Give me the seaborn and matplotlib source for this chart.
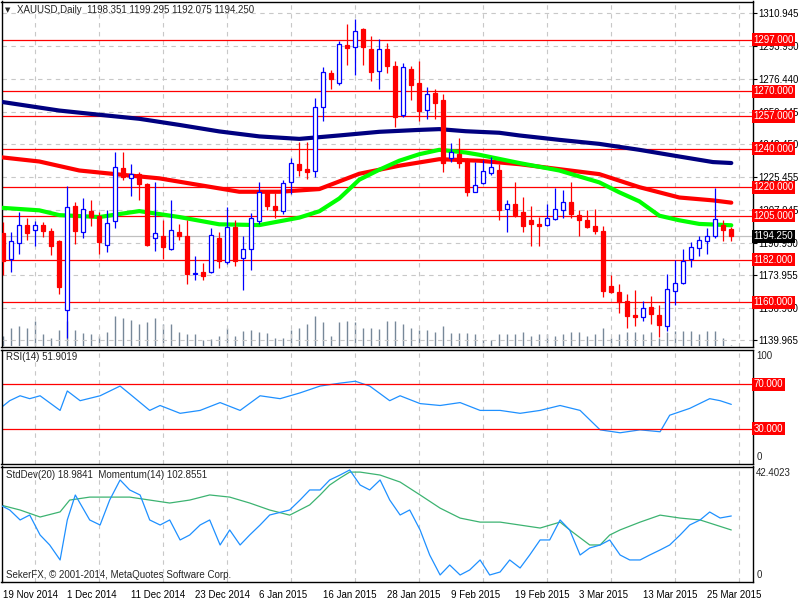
import numpy as np
import pandas as pd
import matplotlib.pyplot as plt
import seaborn as sns

# --- Values (XAUUSD daily, 19 Nov 2014 - 30 Mar 2015) ---
opens = [1196.1, 1182.5, 1190.9, 1200.2, 1197.6, 1200.2, 1197.1, 1191.9, 1155.9, 1210.3,
         1196.6, 1207.5, 1205.1, 1189.8, 1202.3, 1230.1, 1224.6, 1227.0, 1221.8, 1193.6,
         1194.7, 1187.7, 1196.8, 1194.7, 1174.5, 1175.6, 1175.6, 1193.6, 1180.8, 1199.2,
         1182.8, 1187.7, 1202.3, 1218.0, 1210.3, 1207.5, 1222.8, 1232.2, 1229.4, 1228.4,
         1261.8, 1279.5, 1274.3, 1294.1, 1293.0, 1302.4, 1292.0, 1280.5, 1292.0, 1283.3,
         1257.9, 1281.6, 1274.3, 1260.4, 1269.4, 1265.6, 1235.0, 1237.4, 1234.6, 1217.6,
         1222.1, 1227.3, 1229.1, 1208.6, 1211.4, 1207.2, 1202.7, 1200.9, 1200.2, 1203.4,
         1207.9, 1212.4, 1205.4, 1203.0, 1199.9, 1197.1, 1168.6, 1165.5, 1160.6, 1153.3,
         1152.3, 1157.5, 1153.3, 1147.4, 1165.8, 1170.0, 1182.5, 1188.4, 1191.9, 1194.3,
         1200.2, 1198.351]
highs = [1201.6, 1196.8, 1207.2, 1203.7, 1202.3, 1201.6, 1198.8, 1192.2, 1220.7, 1212.4,
         1214.5, 1213.1, 1206.8, 1208.2, 1238.1, 1238.1, 1232.2, 1227.7, 1222.1, 1222.8,
         1202.7, 1213.4, 1200.9, 1203.0, 1184.2, 1180.4, 1198.8, 1196.8, 1209.9, 1203.0,
         1194.3, 1206.5, 1222.8, 1218.7, 1216.9, 1223.5, 1235.4, 1243.7, 1243.7, 1266.6,
         1283.0, 1281.2, 1296.5, 1305.2, 1307.6, 1302.9, 1298.9, 1297.2, 1295.1, 1286.1,
         1284.7, 1283.3, 1285.7, 1272.2, 1271.5, 1268.7, 1243.0, 1245.8, 1235.0, 1232.9,
         1234.3, 1236.0, 1231.9, 1213.1, 1222.5, 1214.8, 1210.0, 1204.4, 1211.4, 1219.7,
         1218.7, 1222.8, 1208.2, 1208.2, 1208.6, 1199.5, 1174.2, 1169.6, 1164.4, 1166.2,
         1160.6, 1163.4, 1158.5, 1174.9, 1181.8, 1187.7, 1191.2, 1194.3, 1198.8, 1219.4,
         1202.7, 1199.295]
lows = [1174.0, 1175.6, 1185.3, 1192.6, 1189.1, 1194.0, 1184.6, 1164.1, 1141.1, 1190.5,
        1193.3, 1199.5, 1185.3, 1186.0, 1198.5, 1223.9, 1215.2, 1213.4, 1189.5, 1186.7,
        1182.5, 1187.2, 1192.6, 1169.3, 1171.4, 1171.7, 1175.0, 1177.6, 1179.7, 1178.7,
        1166.2, 1176.9, 1200.6, 1207.9, 1203.7, 1205.8, 1216.6, 1225.9, 1224.2, 1225.3,
        1254.5, 1271.5, 1273.6, 1284.0, 1278.8, 1284.0, 1275.3, 1271.5, 1279.5, 1251.3,
        1256.5, 1265.6, 1254.8, 1255.8, 1255.8, 1227.7, 1233.3, 1230.1, 1215.5, 1217.3,
        1221.4, 1226.6, 1202.7, 1196.4, 1204.4, 1196.8, 1189.5, 1189.1, 1199.9, 1202.7,
        1203.7, 1203.7, 1194.3, 1198.8, 1195.7, 1162.7, 1164.8, 1154.3, 1146.4, 1147.4,
        1150.2, 1148.8, 1141.8, 1145.0, 1158.5, 1169.6, 1178.3, 1184.2, 1185.3, 1193.3,
        1191.9, 1192.075]
closes = [1181.3, 1191.9, 1200.2, 1196.1, 1200.2, 1197.1, 1189.1, 1167.7, 1209.6, 1197.3,
          1208.6, 1204.4, 1191.2, 1201.3, 1230.5, 1225.3, 1227.0, 1221.4, 1189.8, 1196.1,
          1188.8, 1197.8, 1194.3, 1174.5, 1175.2, 1173.5, 1195.0, 1181.5, 1199.2, 1181.5,
          1187.7, 1204.1, 1217.6, 1210.3, 1207.9, 1222.1, 1232.6, 1229.1, 1227.7, 1261.8,
          1280.2, 1276.4, 1294.8, 1292.4, 1301.4, 1293.4, 1280.2, 1292.0, 1283.3, 1256.5,
          1282.6, 1273.6, 1259.7, 1268.7, 1263.9, 1232.6, 1238.1, 1232.6, 1217.3, 1221.1,
          1228.4, 1230.5, 1208.2, 1211.4, 1205.4, 1199.9, 1200.6, 1199.5, 1204.1, 1208.6,
          1212.4, 1205.8, 1202.7, 1199.2, 1197.1, 1165.8, 1165.1, 1159.9, 1152.6, 1152.3,
          1156.8, 1153.7, 1148.1, 1166.9, 1170.0, 1181.5, 1188.8, 1192.6, 1194.7, 1203.4,
          1197.4, 1194.250]
volumes = [10.7, 18.7, 20, 18, 25.3, 12.7, 8, 16.7, 25, 16,
           13.3, 12.7, 10, 14, 30, 28, 26, 22, 24.7, 28,
           22, 22, 14.7, 12.7, 12.2, 6.7, 7.3, 10.7, 18, 10.7,
           15.3, 16, 14, 13.3, 8, 8.7, 16, 18.7, 22.7, 30,
           24.7, 10, 24.7, 25.3, 24.7, 18.7, 18.7, 17.3, 25.3, 25.3,
           22, 18, 16.7, 16.7, 14.7, 20.7, 13.3, 13.3, 13.3, 12.7,
           6, 6.7, 12, 12.7, 12.7, 14.7, 10.7, 12, 12.7, 10.7,
           12.7, 14, 14.7, 10, 12, 18, 8.7, 12.7, 14, 14,
           12.7, 14, 8, 14.7, 15.3, 15.3, 15.3, 12.7, 15.3, 15.3,
           8, 1.3]

# moving averages, read at sample bars
ma_slow_bars = [-0.5, 7, 12, 17, 22, 27, 32, 37, 42, 47, 52, 54.5, 57.8, 62, 64.5,
                69.5, 74.5, 79.5, 84.5, 88.7, 91]
ma_slow_vals = [1264.7, 1260.0, 1257.8, 1255.7, 1252.5, 1249.1, 1246.5, 1245.2, 1247.0,
                1248.9, 1249.9, 1250.3, 1249.2, 1248.4, 1247.0, 1244.7, 1242.6, 1239.5,
                1236.0, 1233.1, 1232.6]
ma_mid_bars = [-0.5, 4.5, 9.5, 14.5, 19.5, 24.5, 29.5, 34.5, 39.5, 44.5, 49.5, 54.5,
               59.5, 64.5, 69.5, 74.5, 79.5, 84.5, 88.7, 91]
ma_mid_vals = [1235.7, 1233.4, 1228.7, 1226.6, 1224.6, 1221.1, 1217.6, 1217.6, 1219.0,
               1227.0, 1231.2, 1234.6, 1233.8, 1232.0, 1229.4, 1226.8, 1220.0, 1214.6,
               1213.1, 1211.9]
ma_fast_bars = [-0.5, 4.5, 7, 12, 17, 22, 27, 32, 37, 39.5, 42, 44.5, 47, 49.5, 52, 54.5,
                57.8, 59.5, 64.5, 69.5, 74.5, 77, 79.5, 82, 84.5, 87, 91]
ma_fast_vals = [1209.3, 1207.9, 1205.4, 1204.4, 1207.5, 1204.4, 1200.6, 1200.2, 1204.1,
                1207.4, 1214.1, 1223.9, 1229.1, 1233.8, 1237.2, 1239.5, 1238.1, 1236.9,
                1232.6, 1228.7, 1222.5, 1217.3, 1212.6, 1205.1, 1202.7, 1200.8, 1200.1]

levels = [1297, 1270, 1257, 1240, 1220, 1205, 1182, 1160]
last_price = 1194.250
price_ticks = [1310.945, 1293.950, 1276.440, 1259.445, 1242.450, 1225.455,
               1207.945, 1190.950, 1173.955, 1156.960, 1139.965]

rsi_bars = [-0.4, 0.8, 2.1, 3.3, 4.6, 7.1, 8, 9.6, 12.1, 14.6, 15.8, 18.3, 19.6, 22.1,
            24.6, 27.1, 29.6, 32.1, 34.6, 37.1, 39.6, 42.1, 44, 45.8, 48.3, 49.6, 52.1,
            54.6, 57.1, 59.6, 62.1, 64.6, 67.1, 69.6, 72.1, 74.6, 77.1, 79.6, 82.1, 83.3,
            85.8, 88.3, 89.6, 91]
rsi_vals = [48.3, 55.2, 59.6, 57.0, 59.6, 46.5, 63.9, 55.2, 59.6, 68.3, 61.3, 46.5, 50.9,
            43.9, 46.5, 53.5, 46.5, 59.6, 57.0, 62.2, 68.3, 70.9, 72.6, 68.3, 55.2, 59.6,
            52.6, 50.9, 53.5, 46.5, 46.5, 43.9, 46.5, 50.9, 46.5, 29.1, 26.5, 29.1, 27.4,
            42.2, 48.3, 57.0, 55.2, 51.9]

std_bars = [-0.4, 2.1, 4.6, 7.1, 8.3, 10.8, 13.3, 15.8, 18.3, 20.8, 23.3, 25.8, 28.3,
            30.8, 33.3, 35.8, 38.3, 39.6, 40.8, 42.1, 43.3, 44.6, 47.1, 49.6, 52.1, 54.6,
            57.1, 59.6, 62.1, 64.6, 67.1, 69.6, 70.8, 73.3, 74.6, 75.8, 77.1, 79.6, 82.1,
            84.6, 87.1, 91]
std_vals = [28.3, 26.4, 23.8, 25.7, 30.1, 31.2, 31.2, 31.2, 30.1, 29.0, 30.1, 32.0, 31.2,
            29.0, 26.4, 24.5, 28.3, 32.0, 35.7, 38.3, 40.5, 40.5, 39.4, 36.8, 32.0, 27.1,
            23.4, 21.9, 21.9, 20.8, 19.7, 21.9, 19.0, 13.4, 13.4, 17.1, 19.0, 21.9, 24.5,
            23.4, 22.7, 18.98]

mom_bars = [-0.4, 0.8, 2.1, 3.3, 4.6, 5.8, 7.1, 8.0, 9.0, 10.8, 12.1, 13.3, 14.6, 15.8,
            17.1, 18.3, 19.6, 20.8, 22.1, 23.3, 24.6, 25.8, 27.1, 28.3, 29.6, 30.8, 32.1,
            33.3, 35.8, 37.1, 38.3, 39.6, 40.8, 42.1, 43.3, 44.6, 45.8, 47.1, 48.3, 49.6,
            50.8, 52.1, 53.3, 54.6, 55.8, 57.1, 58.3, 59.6, 60.8, 62.1, 63.3, 64.6, 65.8,
            67.1, 68.3, 69.6, 70.8, 72.1, 73.3, 74.6, 75.8, 77.1, 78.3, 79.6, 80.8, 82.1,
            83.3, 84.6, 85.8, 87.1, 88.3, 89.6, 91]
mom_vals = [104.25, 103.62, 102.35, 102.98, 100.44, 99.17, 97.27, 102.35, 105.52, 102.35,
            101.71, 104.89, 107.43, 106.16, 105.52, 102.35, 101.71, 102.35, 99.81, 100.44,
            101.71, 102.35, 99.17, 101.08, 99.17, 100.44, 101.71, 102.98, 103.62, 104.89,
            106.16, 106.16, 107.43, 108.06, 108.70, 106.79, 106.16, 107.43, 104.89, 102.98,
            103.62, 101.08, 97.90, 95.36, 96.63, 95.36, 96.00, 97.27, 95.36, 95.74, 97.27,
            96.25, 97.90, 99.81, 99.81, 102.35, 101.08, 97.90, 98.79, 99.17, 99.81, 97.90,
            97.27, 97.27, 97.90, 98.54, 99.17, 100.44, 101.71, 102.35, 103.36, 102.60,
            102.855]

tick_labels = ["19 Nov 2014", "1 Dec 2014", "11 Dec 2014", "23 Dec 2014", "6 Jan 2015",
               "16 Jan 2015", "28 Jan 2015", "9 Feb 2015", "19 Feb 2015", "3 Mar 2015",
               "13 Mar 2015", "25 Mar 2015"]

# --- Style ---
sns.set_theme(style="white")
plt.rcParams['font.family'] = ['Liberation Sans', 'DejaVu Sans']
FS = 7
GRID = dict(color="#C8C8C8", lw=0.8, ls=(0, (4, 4)), zorder=0)

W, H = 800, 600
fig = plt.figure(figsize=(8, 6), dpi=100)
fig.patch.set_facecolor("white")


def box(x0, y0, x1, y1):
    return [x0 / W, 1 - y1 / H, (x1 - x0) / W, (y1 - y0) / H]


ax = fig.add_axes(box(1.5, 1.5, 752.5, 346.5))
ax_rsi = fig.add_axes(box(1.5, 349.5, 752.5, 463.5))
ax_ind = fig.add_axes(box(1.5, 466.5, 752.5, 582))

n = len(closes)
xlim = (-0.225, 93.65)
grid_bars = np.arange(4, n + 1, 8)

for a in (ax, ax_rsi, ax_ind):
    a.set_xlim(*xlim)
    a.set_facecolor("white")
    for s in a.spines.values():
        s.set_color("black")
        s.set_linewidth(1.0)
    for b in grid_bars:
        a.axvline(b, **GRID)

# --- Main panel: candles, volumes, moving averages ---
df = pd.DataFrame({"o": opens, "h": highs, "l": lows, "c": closes, "v": volumes})
df["x"] = np.arange(n)
up = df[df.c >= df.o]
dn = df[df.c < df.o]

ax_v = ax.twinx()
ax_v.set_zorder(ax.get_zorder() - 1)
ax.patch.set_visible(False)
ax_v.set_ylim(0, 345)
ax_v.vlines(df.x, 0, df.v, color="#778899", lw=1.0)
ax_v.yaxis.set_visible(False)
for s in ax_v.spines.values():
    s.set_visible(False)

ax.set_ylim(1136.80, 1316.94)
for t in price_ticks:
    ax.axhline(t, **GRID)
ax.axhline(last_price, color="#C0C0C0", lw=0.9, zorder=1)
for lv in levels:
    ax.axhline(lv, color="#FF0000", lw=0.9, zorder=2)

sns.lineplot(x=ma_slow_bars, y=ma_slow_vals, ax=ax, color="#000080", lw=3, zorder=3)
sns.lineplot(x=ma_mid_bars, y=ma_mid_vals, ax=ax, color="#FF0000", lw=3, zorder=3)
sns.lineplot(x=ma_fast_bars, y=ma_fast_vals, ax=ax, color="#00FF00", lw=3, zorder=3)

ax.vlines(up.x, up.l, up.h, color="#0000FF", lw=0.9, zorder=4)
ax.vlines(dn.x, dn.l, dn.h, color="#FF0000", lw=0.9, zorder=4)
ax.bar(up.x, np.maximum(up.c - up.o, 0.4), bottom=up.o, width=0.5,
       color="white", edgecolor="#0000FF", lw=0.9, zorder=5)
ax.bar(dn.x, np.maximum(dn.o - dn.c, 0.4), bottom=dn.c, width=0.5,
       color="#FF0000", edgecolor="#FF0000", lw=0.9, zorder=5)

ax.yaxis.tick_right()
ax.set_yticks(price_ticks)
ax.set_yticklabels([f"{t:.3f}" for t in price_ticks])
ax.tick_params(axis="y", labelsize=FS, length=3, width=0.8, pad=1.5, colors="black")
ax.set_xticks([])
ax.set_xlabel("")
ax.set_ylabel("")

ytr = ax.get_yaxis_transform()
for lv in levels:
    ax.text(1.0015, lv, f"{lv:.3f}", transform=ytr, color="white", fontsize=FS,
            va="center", ha="left", clip_on=False, zorder=10,
            bbox=dict(boxstyle="square,pad=0.15", fc="#FF0000", ec="none"))
ax.text(1.0015, last_price, f"{last_price:.3f}", transform=ytr, color="white",
        fontsize=FS, va="center", ha="left", clip_on=False, zorder=10,
        bbox=dict(boxstyle="square,pad=0.15", fc="black", ec="none"))

# --- RSI panel ---
ax_rsi.set_ylim(-1, 101)
sns.lineplot(x=rsi_bars, y=rsi_vals, ax=ax_rsi, color="#1E90FF", lw=0.9)
for lv in (70, 30):
    ax_rsi.axhline(lv, color="#FF0000", lw=0.9, zorder=2)
ax_rsi.set_xticks([])
ax_rsi.set_yticks([])
ax_rsi.set_xlabel("")
ax_rsi.set_ylabel("")
rtr = ax_rsi.get_yaxis_transform()
ax_rsi.text(1.005, 95, "100", transform=rtr, fontsize=FS, va="center", ha="left")
ax_rsi.text(1.005, 5, "0", transform=rtr, fontsize=FS, va="center", ha="left")
for lv in (70, 30):
    ax_rsi.text(1.0015, lv, f"{lv:.3f}", transform=rtr, color="white", fontsize=FS,
                va="center", ha="left", clip_on=False,
                bbox=dict(boxstyle="square,pad=0.15", fc="#FF0000", ec="none"))

# --- StdDev / Momentum panel ---
ax_ind.set_ylim(-0.37, 42.58)
sns.lineplot(x=std_bars, y=std_vals, ax=ax_ind, color="#3CB371", lw=0.9)
ax_m = ax_ind.twinx()
ax_m.set_ylim(94.47, 109.14)
sns.lineplot(x=mom_bars, y=mom_vals, ax=ax_m, color="#1E90FF", lw=0.9)
ax_m.set_xlim(*xlim)
ax_m.yaxis.set_visible(False)
ax_m.set_ylabel("")
for s in ax_m.spines.values():
    s.set_visible(False)
ax_ind.set_yticks([])
ax_ind.set_ylabel("")
itr = ax_ind.get_yaxis_transform()
ax_ind.text(1.005, 40.2, "42.4023", transform=itr, fontsize=FS, va="center", ha="left")
ax_ind.text(1.005, 2.2, "0", transform=itr, fontsize=FS, va="center", ha="left")

ax_ind.set_xticks(np.arange(0, n, 8))
ax_ind.set_xticklabels(tick_labels)
ax_ind.tick_params(axis="x", labelsize=FS, length=4, width=0.8, pad=1.5,
                   direction="out", colors="black")
for lbl in ax_ind.get_xticklabels():
    lbl.set_ha("left")
ax_ind.set_xlabel("")

# --- Texts ---
fig.text(5 / W, 1 - 10 / H, "\u25BC", fontsize=5, va="center", ha="left",
         family="DejaVu Sans")
fig.text(17 / W, 1 - 10 / H, "XAUUSD,Daily  1198.351 1199.295 1192.075 1194.250",
         fontsize=FS, va="center", ha="left")
fig.text(6 / W, 1 - 357 / H, "RSI(14) 51.9019", fontsize=FS, va="center", ha="left")
fig.text(6 / W, 1 - 475 / H, "StdDev(20) 18.9841  Momentum(14) 102.8551",
         fontsize=FS, va="center", ha="left")
fig.text(6 / W, 1 - 575 / H, "SekerFX, \u00A9 2001-2014, MetaQuotes Software Corp.",
         fontsize=FS, va="center", ha="left")

plt.savefig("out.png", dpi=100, facecolor="white")
plt.close()
